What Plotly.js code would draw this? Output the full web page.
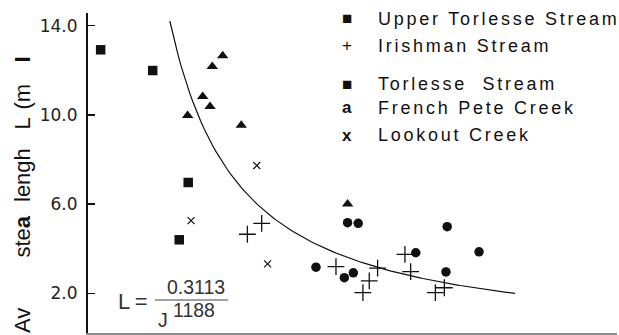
<!DOCTYPE html>
<html>
<head>
<meta charset="utf-8">
<script src="https://cdn.plot.ly/plotly-3.0.1.min.js"></script>
<style>
  html, body { margin: 0; padding: 0; background: #fff; }
  #chart { width: 619px; height: 335px; }
</style>
</head>
<body>
<div id="chart"></div>
<script>
// Average step length L (m) against channel slope S, five gravel-bed streams

// Upper Torlesse Stream
const upperTorlesseS = [0.0062, 0.0317, 0.0491, 0.0447];
const upperTorlesseL = [12.92, 11.99, 6.97, 4.40];

// Irishman Stream
const irishmanS = [0.0781, 0.0851, 0.1215, 0.1419, 0.1378, 0.1347, 0.1553, 0.1581, 0.1746, 0.1702];
const irishmanL = [4.65, 5.14, 3.20, 3.13, 2.56, 2.03, 3.75, 2.97, 2.25, 2.03];

// Torlesse Stream
const torlesseS = [0.1272, 0.1324, 0.1117, 0.1256, 0.1300, 0.1606, 0.1760, 0.1754, 0.1916];
const torlesseL = [5.17, 5.14, 3.17, 2.70, 2.92, 3.82, 4.99, 2.96, 3.86];

// French Pete Creek
const frenchPeteS = [0.0660, 0.0609, 0.0562, 0.0598, 0.0488, 0.0751, 0.1272];
const frenchPeteL = [12.65, 12.17, 10.83, 10.38, 9.97, 9.54, 6.01];

// Lookout Creek
const lookoutS = [0.0827, 0.0505, 0.0880];
const lookoutL = [7.73, 5.26, 3.32];

// Fitted relation L = 0.3113 / S^1.188, drawn over the fitted slope span
const fitCoef = 0.3113;
const fitExp = 1.188;
const fitSpan = [0.0401, 0.2092];

// Axis ticks
const yTickVals = [2, 6, 10, 14];
const yTickText = ['2.0', '6.0', '10.0', '14.0'];

// Legend entries: glyph and name
const legendGlyphs = ['\u25A0', '+', '\u25A0', '<b>a</b>', '<b>x</b>'];
const legendNames = ['Upper Torlesse Stream', 'Irishman Stream', 'Torlesse  Stream', 'French Pete Creek', 'Lookout Creek'];

const fitS = [];
const fitL = [];
const nFit = 120;
for (let i = 0; i <= nFit; i++) {
  const s = fitSpan[0] + (fitSpan[1] - fitSpan[0]) * i / nFit;
  fitS.push(s);
  fitL.push(fitCoef / Math.pow(s, fitExp));
}

const ink = '#111';
const traces = [
  { x: fitS, y: fitL, mode: 'lines', line: { color: ink, width: 1.2 }, hoverinfo: 'skip' },
  { x: upperTorlesseS, y: upperTorlesseL, mode: 'markers', name: 'Upper Torlesse Stream',
    marker: { symbol: 'square', size: 9.5, color: ink } },
  { x: irishmanS, y: irishmanL, mode: 'markers', name: 'Irishman Stream',
    marker: { symbol: 'cross-thin-open', size: 12, color: ink, line: { color: ink, width: 1.3 } } },
  { x: torlesseS, y: torlesseL, mode: 'markers', name: 'Torlesse Stream',
    marker: { symbol: 'circle', size: 9.5, color: ink } },
  { x: frenchPeteS, y: frenchPeteL, mode: 'markers', name: 'French Pete Creek',
    marker: { symbol: 'triangle-up', size: 10, color: ink } },
  { x: lookoutS, y: lookoutL, mode: 'markers', name: 'Lookout Creek',
    marker: { symbol: 'x-thin-open', size: 7, color: ink, line: { color: ink, width: 1.2 } } }
];

// helpers for placing text in paper space of a 619x335 page
const L = 88, R = 617, T = 13, B = 333;
const px = v => (v - L) / (R - L);
const py = v => (B - v) / (B - T);

const annotations = [];

// legend
const legRows = [18.5, 45.5, 84.5, 107.5, 135];
legendNames.forEach((name, i) => {
  annotations.push({
    xref: 'paper', yref: 'paper', x: px(347), y: py(legRows[i]),
    xanchor: 'center', yanchor: 'middle', showarrow: false,
    text: legendGlyphs[i],
    font: { family: 'Liberation Sans, Arial, sans-serif', size: 17, color: ink }
  });
  annotations.push({
    xref: 'paper', yref: 'paper', x: px(376), y: py(legRows[i]),
    xanchor: 'left', yanchor: 'middle', showarrow: false,
    text: '<span style="letter-spacing:2.75px">' + name + '</span>',
    font: { family: 'Liberation Sans, Arial, sans-serif', size: 18, color: ink }
  });
});

// y-axis title, word by word
const titleFont = { family: 'Liberation Sans, sans-serif', size: 22, color: ink };
const titleParts = [
  ['Av', 321], ['ste<b>a</b>', 236.5], ['lengh', 175], ['L', 123.5], ['(m', 96.5], ['<b>I</b>', 59.5]
];
titleParts.forEach(([t, yy]) => {
  annotations.push({
    xref: 'paper', yref: 'paper', x: px(22), y: py(yy),
    xanchor: 'center', yanchor: 'middle', showarrow: false, textangle: -90,
    text: t, font: titleFont
  });
});

// fitted equation
const eqFont = { family: 'Liberation Sans, sans-serif', size: 19.5, color: '#333' };
annotations.push({ xref: 'paper', yref: 'paper', x: px(116), y: py(301), xanchor: 'left', yanchor: 'middle',
  showarrow: false, text: 'L\u2009=', font: { family: 'Liberation Sans, sans-serif', size: 22, color: '#333' } });
annotations.push({ xref: 'paper', yref: 'paper', x: px(166), y: py(287), xanchor: 'left', yanchor: 'middle',
  showarrow: false, text: '0.3113', font: eqFont, borderpad: 0 });
annotations.push({ xref: 'paper', yref: 'paper', x: px(157), y: py(320), xanchor: 'left', yanchor: 'middle',
  showarrow: false, text: 'J', font: eqFont, borderpad: 0 });
annotations.push({ xref: 'paper', yref: 'paper', x: px(172), y: py(310), xanchor: 'left', yanchor: 'middle',
  showarrow: false, text: '1188', font: eqFont, borderpad: 0 });

const layout = {
  width: 619, height: 335,
  margin: { l: L, r: 619 - R, t: T, b: 335 - B, pad: 0 },
  paper_bgcolor: '#fff', plot_bgcolor: '#fff',
  showlegend: false,
  xaxis: {
    range: [0, 0.2592], showgrid: false, zeroline: false,
    showline: true, linecolor: '#8c8c8c', linewidth: 1.5,
    ticks: '', showticklabels: false, fixedrange: true
  },
  yaxis: {
    range: [0.221, 14.57], showgrid: false, zeroline: false,
    showline: true, linecolor: ink, linewidth: 2,
    tickmode: 'array', tickvals: yTickVals, ticktext: yTickText,
    ticks: 'inside', ticklen: 7, tickwidth: 1.5, tickcolor: ink,
    ticklabelstandoff: 5,
    tickfont: { family: 'DejaVu Sans, sans-serif', size: 17, color: '#222' },
    fixedrange: true
  },
  shapes: [
    { type: 'line', xref: 'paper', yref: 'paper', x0: px(155), x1: px(228), y0: py(300), y1: py(300),
      line: { color: '#444', width: 1.2 } }
  ],
  annotations: annotations
};

Plotly.newPlot('chart', traces, layout, { staticPlot: true, displayModeBar: false });
</script>
</body>
</html>
